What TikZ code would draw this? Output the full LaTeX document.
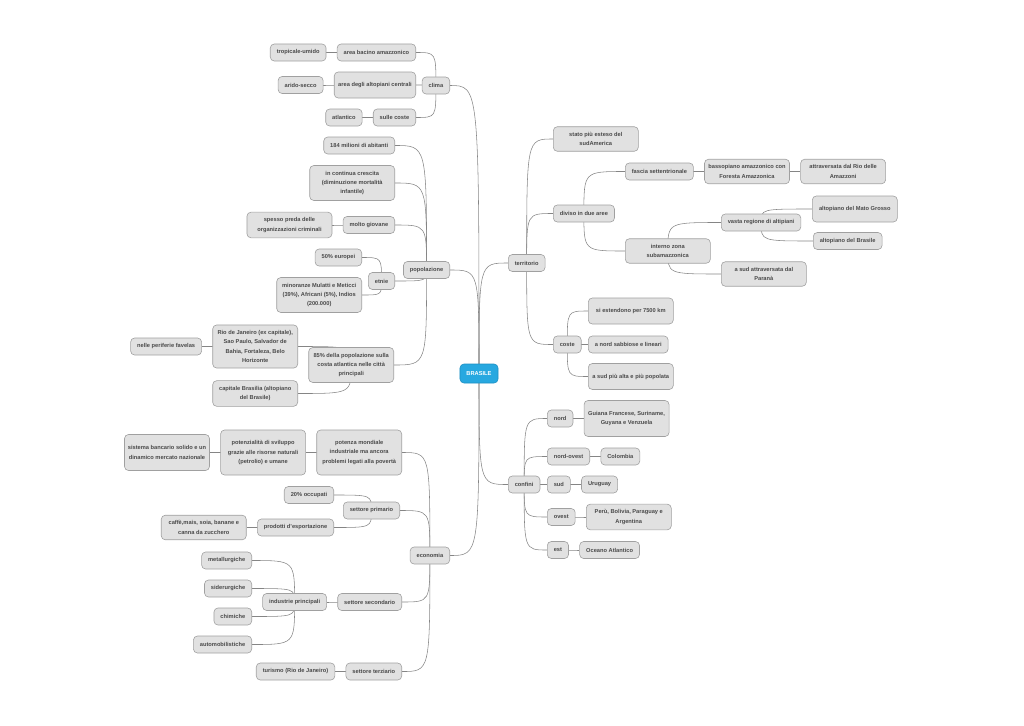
\documentclass[tikz,border=0pt]{standalone}
\usepackage{fontspec}
\setmainfont{Liberation Sans}
\usetikzlibrary{positioning,backgrounds}
\definecolor{boxfill}{HTML}{E1E1E1}
\definecolor{boxline}{HTML}{A0A0A0}
\definecolor{boxtext}{HTML}{4A4A4A}
\definecolor{linkcol}{HTML}{858585}
\definecolor{rootfill}{HTML}{27A8E0}
\definecolor{rootline}{HTML}{1E8FC2}

\begin{document}
\begin{tikzpicture}[x=1pt,y=-1pt,
  topic/.style={rectangle,rounded corners=4pt,draw=boxline,fill=boxfill,text=boxtext,
                font=\fontsize{5.7}{9.3}\selectfont\bfseries,line width=0.6pt,
                inner xsep=6.5pt,inner ysep=5.5pt,minimum height=17pt,align=center},
  wide/.style={topic,minimum width=85pt,inner xsep=3pt},
  root/.style={topic,fill=rootfill,draw=rootline,text=white,minimum width=36pt,minimum height=19pt},
  link/.style={draw=linkcol,line width=0.55pt,
               to path={.. controls (\tikztostart |- \tikztotarget) .. (\tikztotarget)}}]

\useasboundingbox (0,0) rectangle (1024,725);

\node[root] (brasile) at (479,373.5) {BRASILE};

% clima
\node[topic,anchor=east] (clima) at (450,85.5) {clima};
\node[topic,anchor=east] (bacino) at (416,52.5) {area bacino amazzonico};
\node[topic,left=10.5pt of bacino] (umido) {tropicale-umido};
\node[topic,anchor=east,minimum height=26pt,inner xsep=4pt] (altopiani) at (416,85) {area degli altopiani centrali};
\node[topic,left=10.5pt of altopiani] (secco) {arido-secco};
\node[topic,anchor=east] (sulle) at (416,117.5) {sulle coste};
\node[topic,left=10.5pt of sulle] (atlantico) {atlantico};

% popolazione
\node[topic,anchor=east] (popolazione) at (450,270) {popolazione};
\node[topic,anchor=east] (abitanti) at (395,145.5) {184 milioni di abitanti};
\node[wide,anchor=east] (crescita) at (395,183) {in continua crescita\\(diminuzione mortalità\\infantile)};
\node[topic,anchor=east] (giovane) at (395,225) {molto giovane};
\node[wide,left=10.5pt of giovane] (criminali) {spesso preda delle\\organizzazioni criminali};
\node[topic,anchor=east] (etnie) at (395,281) {etnie};
\node[topic,anchor=east] (europei) at (362,257.5) {50\% europei};
\node[wide,anchor=east] (minoranze) at (362,295) {minoranze Mulatti e Meticci\\(39\%), Africani (5\%), Indios\\(200.000)};
\node[wide,anchor=east] (costa) at (394,365) {85\% della popolazione sulla\\costa atlantica nelle città\\principali};
\node[wide,anchor=east] (rio) at (298,346.5) {Rio de Janeiro (ex capitale),\\Sao Paulo, Salvador de\\Bahia, Fortaleza, Belo\\Horizonte};
\node[topic,left=10.5pt of rio] (favelas) {nelle periferie favelas};
\node[wide,anchor=east] (capitale) at (298,393.5) {capitale Brasilia (altopiano\\del Brasile)};

% economia
\node[topic,anchor=east] (economia) at (450,555.5) {economia};
\node[wide,anchor=east,minimum height=45pt] (potenza) at (402,452.5) {potenza mondiale\\industriale ma ancora\\problemi legati alla povertà};
\node[wide,left=10.5pt of potenza,minimum height=45pt] (sviluppo) {potenzialità di sviluppo\\grazie alle risorse naturali\\(petrolio) e umane};
\node[wide,left=10.5pt of sviluppo,minimum height=36pt] (bancario) {sistema bancario solido e un\\dinamico mercato nazionale};
\node[topic,anchor=east] (primario) at (400,510.5) {settore primario};
\node[topic,anchor=east] (occupati) at (334,495) {20\% occupati};
\node[topic,anchor=east] (prodotti) at (334,527.5) {prodotti d'esportazione};
\node[wide,left=10.5pt of prodotti] (caffe) {caffè,mais, soia, banane e\\canna da zucchero};
\node[topic,anchor=east] (secondario) at (402,602) {settore secondario};
\node[topic,left=10.5pt of secondario] (industrie) {industrie principali};
\node[topic,anchor=east] (metallurgiche) at (252,560.5) {metallurgiche};
\node[topic,anchor=east] (siderurgiche) at (252,588.5) {siderurgiche};
\node[topic,anchor=east] (chimiche) at (252,616.5) {chimiche};
\node[topic,anchor=east] (automobilistiche) at (252,644.5) {automobilistiche};
\node[topic,anchor=east] (terziario) at (402,671.5) {settore terziario};
\node[topic,left=10.5pt of terziario] (turismo) {turismo (Rio de Janeiro)};

% territorio
\node[topic,anchor=west] (territorio) at (508,263) {territorio};
\node[wide,anchor=west] (esteso) at (553,139) {stato più esteso del\\sudAmerica};
\node[topic,anchor=west] (diviso) at (553,213.5) {diviso in due aree};
\node[topic,anchor=west] (fascia) at (625,171.5) {fascia settentrionale};
\node[wide,right=10.5pt of fascia] (bassopiano) {bassopiano amazzonico con\\Foresta Amazzonica};
\node[wide,right=10.5pt of bassopiano] (rioamazzoni) {attraversata dal Rio delle\\Amazzoni};
\node[wide,anchor=west] (interno) at (625,251) {interno zona\\subamazzonica};
\node[topic,anchor=west] (vasta) at (721,222.5) {vasta regione di altipiani};
\node[wide,anchor=west,minimum height=26pt] (matogrosso) at (812,209) {altopiano del Mato Grosso};
\node[topic,anchor=west] (altbrasile) at (813,241) {altopiano del Brasile};
\node[wide,anchor=west] (parana) at (721,274) {a sud attraversata dal\\Paranà};

% coste
\node[topic,anchor=west] (coste) at (553,344.5) {coste};
\node[wide,anchor=west,minimum height=26pt] (estendono) at (588,311) {si estendono per 7500 km};
\node[topic,anchor=west] (sabbiose) at (588,344.5) {a nord sabbiose e lineari};
\node[wide,anchor=west,minimum height=26pt] (popolata) at (588,376.5) {a sud più alta e più popolata};

% confini
\node[topic,anchor=west] (confini) at (508,484.5) {confini};
\node[topic,anchor=west] (nord) at (547,418.5) {nord};
\node[wide,right=10.5pt of nord,minimum height=36pt] (guiana) {Guiana Francese, Suriname,\\Guyana e Venzuela};
\node[topic,anchor=west] (nordovest) at (547,456.5) {nord-ovest};
\node[topic,right=10.5pt of nordovest] (colombia) {Colombia};
\node[topic,anchor=west] (sud) at (547,484.5) {sud};
\node[topic,right=10.5pt of sud] (uruguay) {Uruguay};
\node[topic,anchor=west] (ovest) at (547,517) {ovest};
\node[wide,right=10.5pt of ovest] (peru) {Perù, Bolivia, Paraguay e\\Argentina};
\node[topic,anchor=west] (est) at (547,550) {est};
\node[topic,right=10.5pt of est] (oceano) {Oceano Atlantico};

% connectors behind the boxes
\begin{scope}[on background layer]
\draw[link] (brasile.center) edge (clima.east) edge (popolazione.east) edge (economia.east)
            edge (territorio.west) edge (confini.west);
\draw[link] (clima.center) edge (bacino.east) edge (altopiani.east) edge (sulle.east);
\draw[link] (bacino.center) edge (umido.east) (altopiani.center) edge (secco.east)
            (sulle.center) edge (atlantico.east);
\draw[link] (popolazione.center) edge (abitanti.east) edge (crescita.east) edge (giovane.east)
            edge (etnie.east) edge (costa.east);
\draw[link] (giovane.center) edge (criminali.east);
\draw[link] (etnie.center) edge (europei.east) edge (minoranze.east);
\draw[link] (costa.center) edge (rio.east) edge (capitale.east) (rio.center) edge (favelas.east);
\draw[link] (economia.center) edge (potenza.east) edge (primario.east) edge (secondario.east)
            edge (terziario.east);
\draw[link] (potenza.center) edge (sviluppo.east) (sviluppo.center) edge (bancario.east);
\draw[link] (primario.center) edge (occupati.east) edge (prodotti.east)
            (prodotti.center) edge (caffe.east);
\draw[link] (secondario.center) edge (industrie.east);
\draw[link] (industrie.center) edge (metallurgiche.east) edge (siderurgiche.east)
            edge (chimiche.east) edge (automobilistiche.east);
\draw[link] (terziario.center) edge (turismo.east);
\draw[link] (territorio.center) edge (esteso.west) edge (diviso.west) edge (coste.west);
\draw[link] (diviso.center) edge (fascia.west) edge (interno.west);
\draw[link] (fascia.center) edge (bassopiano.west) (bassopiano.center) edge (rioamazzoni.west);
\draw[link] (interno.center) edge (vasta.west) edge (parana.west);
\draw[link] (vasta.center) edge (matogrosso.west) edge (altbrasile.west);
\draw[link] (coste.center) edge (estendono.west) edge (sabbiose.west) edge (popolata.west);
\draw[link] (confini.center) edge (nord.west) edge (nordovest.west) edge (sud.west)
            edge (ovest.west) edge (est.west);
\draw[link] (nord.center) edge (guiana.west) (nordovest.center) edge (colombia.west)
            (sud.center) edge (uruguay.west) (ovest.center) edge (peru.west)
            (est.center) edge (oceano.west);
\end{scope}

\end{tikzpicture}
\end{document}
